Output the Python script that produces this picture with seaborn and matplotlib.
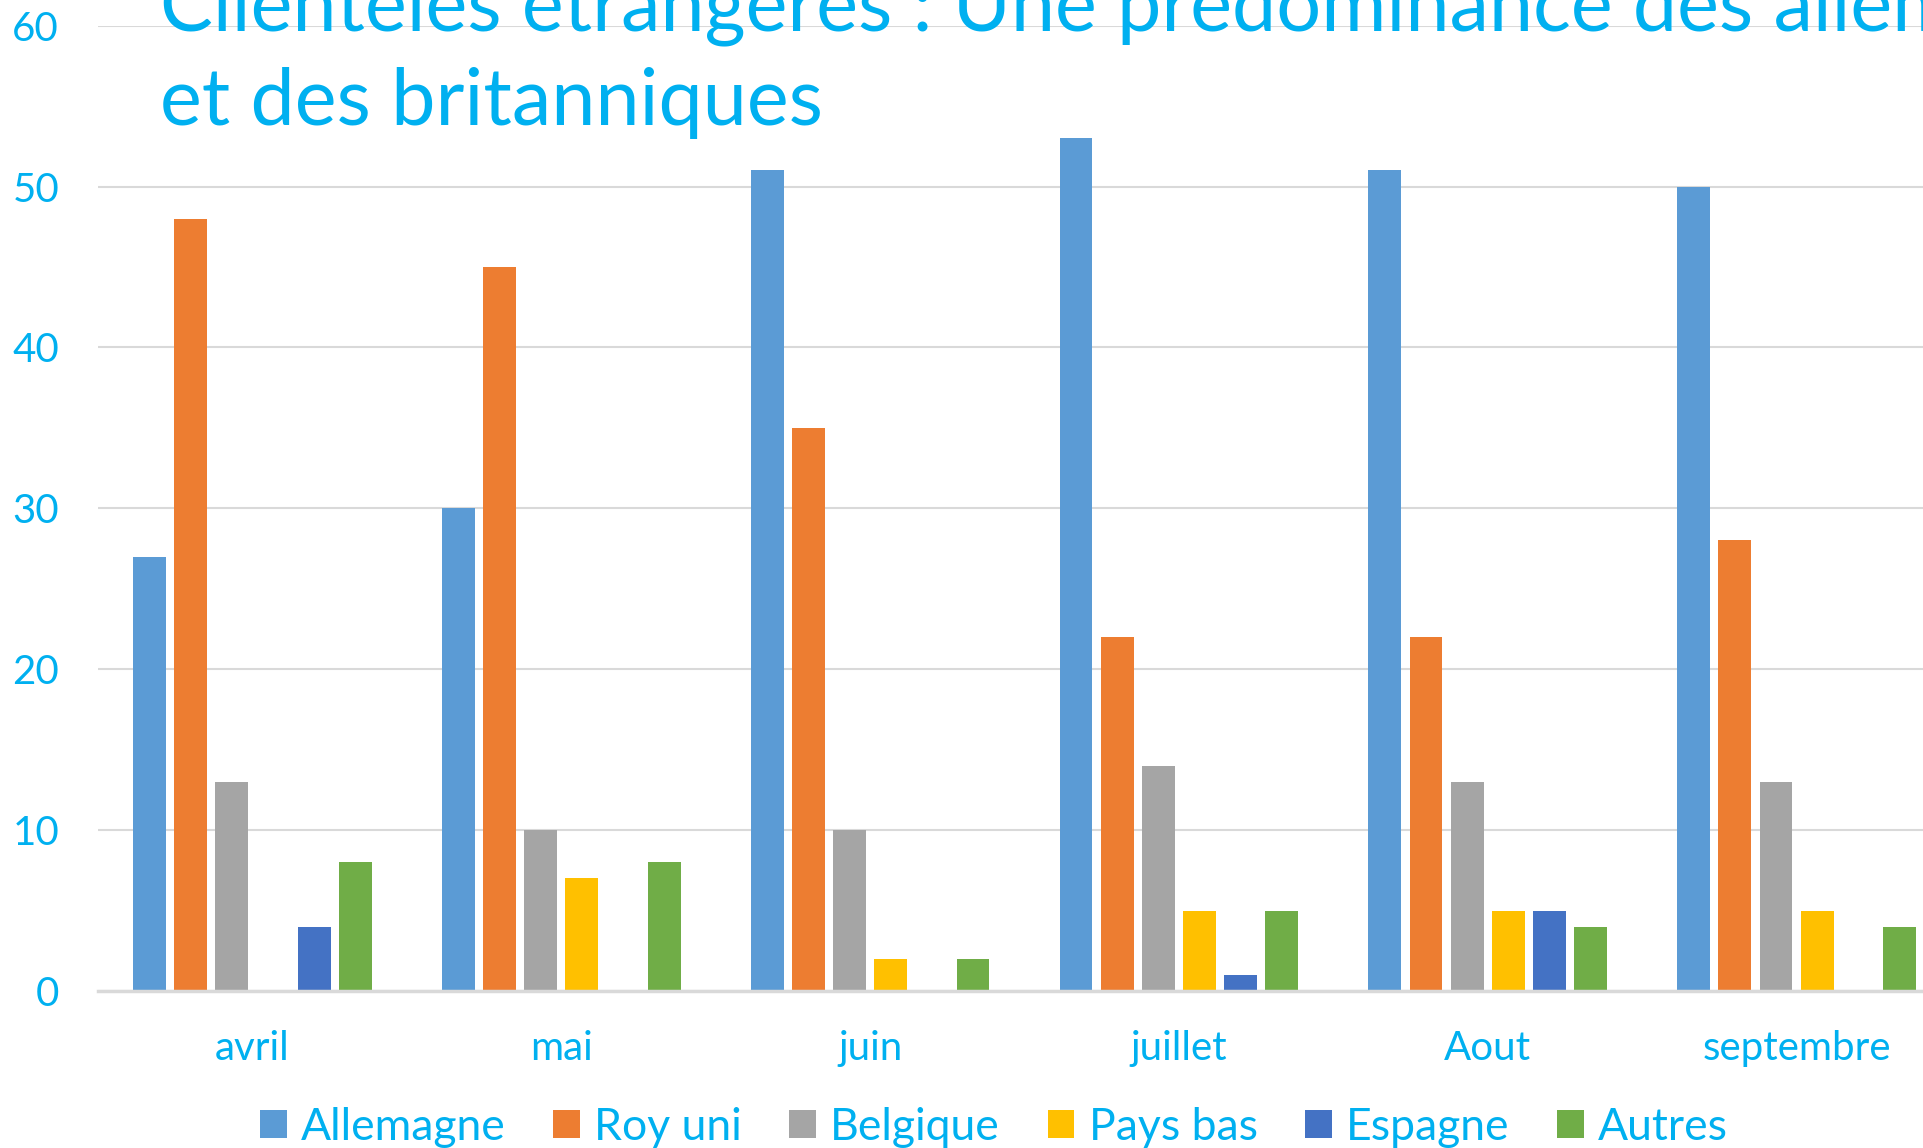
import pandas as pd
import seaborn as sns
import matplotlib.pyplot as plt
from matplotlib.patches import Patch

# ============================================================
# DONNEES
# ============================================================
mois = ["avril", "mai", "juin", "juillet", "Aout", "septembre"]
pays = ["Allemagne", "Roy uni", "Belgique", "Pays bas", "Espagne", "Autres"]

allemagne = [27, 30, 51, 53, 51, 50]
roy_uni = [48, 45, 35, 22, 22, 28]
belgique = [13, 10, 10, 14, 13, 13]
pays_bas = [0, 7, 2, 5, 5, 5]
espagne = [4, 0, 0, 1, 5, 0]
autres = [8, 8, 2, 5, 4, 4]

couleurs = ["#5B9BD5", "#ED7D31", "#A5A5A5", "#FFC000", "#4472C4", "#70AD47"]
bleu_texte = "#00B0F0"

titre = "Clientèles étrangères : Une prédominance des allemands\net des britanniques"

series = [allemagne, roy_uni, belgique, pays_bas, espagne, autres]
rows = []
for p, vals in zip(pays, series):
    for m, v in zip(mois, vals):
        rows.append({"mois": m, "pays": p, "valeur": v})
df = pd.DataFrame(rows)

# ============================================================
# GRAPHIQUE
# ============================================================
sns.set_style("white")
plt.rcParams["font.family"] = ["Lato", "DejaVu Sans"]

fig = plt.figure(figsize=(19.24, 11.48), dpi=100)
ax = fig.add_axes([98 / 1924, 1 - 991 / 1148, (1951 - 98) / 1924, (991 - 25.6) / 1148])

sns.barplot(
    data=df, x="mois", y="valeur", hue="pays", order=mois, hue_order=pays,
    palette=couleurs, width=0.8, gap=0.2, legend=False, ax=ax,
    linewidth=0, saturation=1,
)

ax.set_ylim(0, 60)
ax.set_yticks(range(0, 61, 10))
ax.set_xlim(-0.5, 5.5)
ax.yaxis.grid(True, color="#D9D9D9", linewidth=1.5)
ax.set_axisbelow(True)
for s in ["top", "right", "left"]:
    ax.spines[s].set_visible(False)
ax.spines["bottom"].set_color("#D9D9D9")
ax.spines["bottom"].set_linewidth(2.5)
ax.set_xlabel("")
ax.set_ylabel("")
ax.tick_params(axis="y", length=0, pad=28, labelsize=29, labelcolor=bleu_texte)
ax.tick_params(axis="x", length=0, pad=28, labelsize=29, labelcolor=bleu_texte)

# le titre dépasse en haut et à droite, comme sur l'original
fig.text(160 / 1924, 1 - 125 / 1148, titre, fontsize=57, color=bleu_texte,
         ha="left", va="baseline", linespacing=1.37)

handles = [Patch(facecolor=c, edgecolor="none") for c in couleurs]
fig.legend(
    handles, pays, loc="center", bbox_to_anchor=(994 / 1924, 1 - 1127 / 1148),
    ncol=6, frameon=False, fontsize=32, labelcolor=bleu_texte,
    handlelength=0.6, handleheight=0.6, handletextpad=0.32, columnspacing=1.07,
)

plt.savefig("out.png", dpi=100)
plt.close()
